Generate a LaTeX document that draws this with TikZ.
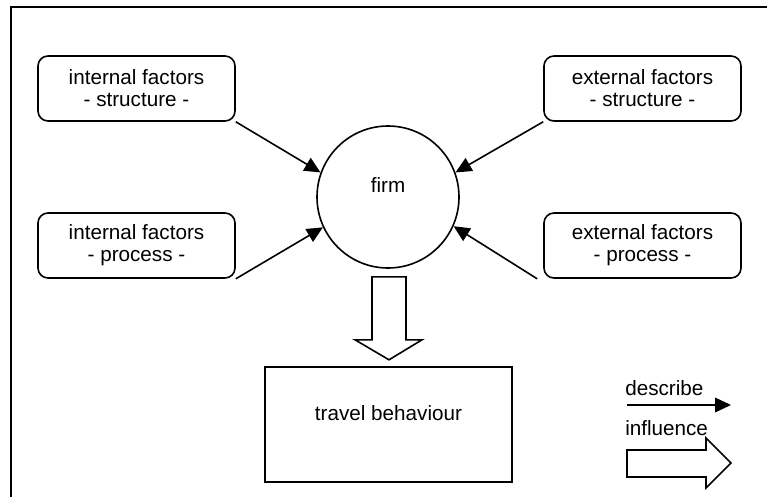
\documentclass[tikz,border=0pt]{standalone}
\usepackage{fontspec}
\setmainfont{Liberation Sans}
\usetikzlibrary{arrows.meta}

\begin{document}
\begin{tikzpicture}[
x=0.75pt, y=-0.75pt,
every node/.style={font=\fontsize{15.5pt}{16.5pt}\selectfont},
factor/.style={
% The shape:
rectangle, rounded corners=7.5pt,
% The size:
minimum width=147.75pt, minimum height=48.75pt, inner sep=0pt,
% The border:
line width=1.2pt, draw=black,
% Text
align=center
},
firmcircle/.style={
circle, minimum size=106.5pt, inner sep=0pt,
line width=1.2pt, draw=black
},
outcome/.style={
rectangle, minimum width=185.25pt, minimum height=86.25pt, inner sep=0pt,
line width=1.2pt, draw=black
},
% thin arrow with a filled head
describes/.style={
line width=1.2pt, -{Triangle[length=12pt,width=11pt]}
},
% hollow block arrow
influences/.style={
line width=1.2pt, draw=black, fill=white, line join=miter
},
legendtext/.style={anchor=west, inner sep=0pt}
]
\useasboundingbox (0,0) rectangle (767,496);
% frame
\draw[line width=1.2pt] (11,7) rectangle (772,502);

% the firm and its factors
\node[firmcircle, label={[yshift=9pt]center:firm}] (firm) at (388,197) {};
\node[factor] (is) at (136.5,88.5) {internal factors\\- structure -};
\node[factor] (ip) at (136.5,245.5) {internal factors\\- process -};
\node[factor] (es) at (642.5,88.5) {external factors\\- structure -};
\node[factor] (ep) at (642.5,245.5) {external factors\\- process -};
\node[outcome, label={[yshift=8.5pt]center:travel behaviour}] (travel) at (388.5,424.5) {};

\draw[describes] (is.south east) -- (firm.160);
\draw[describes] (ip.south east) -- (firm.205);
\draw[describes] (es.south west) -- (firm.20);
\draw[describes] ([xshift=-4.5pt]ep.south west) -- (firm.336);

% firm -> travel behaviour
\draw[influences, shift={(firm.south)}]
  (-16,8) -- (18,8) -- (18,71) -- (34,71) -- (1,91) -- (-33,71) -- (-16,71) -- cycle;

% legend
\node[legendtext] (describe) at (625,388) {describe};
\coordinate (d1) at (627,405);
\coordinate (d2) at (731,405);
\draw[describes] (d1) -- (d2);
\node[legendtext] (influence) at (625,428) {influence};
\draw[influences, shift={(627,463)}]
  (0,-13) -- (79,-13) -- (79,-25) -- (104,0) -- (79,25) -- (79,14) -- (0,14) -- cycle;
\end{tikzpicture}
\end{document}
